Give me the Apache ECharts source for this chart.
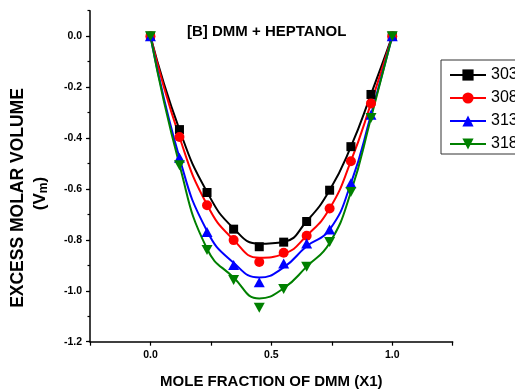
<!DOCTYPE html>
<html><head><meta charset="utf-8">
<script src="https://cdn.jsdelivr.net/npm/echarts@6/dist/echarts.min.js"></script>
<style>html,body{margin:0;padding:0;background:#fff}#c{width:515px;height:389px}</style>
</head><body><div id="c"></div>
<script>
// ---- data ----
const moleFraction = [0, 0.120, 0.234, 0.344, 0.450, 0.551, 0.646, 0.741, 0.829, 0.912, 1.0];
const seriesNames = ['303.15 K', '308.15 K', '313.15 K', '318.15 K'];
// measured points (markers)
const vm303 = [0, -0.367, -0.614, -0.758, -0.827, -0.809, -0.728, -0.605, -0.434, -0.229, 0];
const vm308 = [0, -0.396, -0.664, -0.801, -0.887, -0.851, -0.784, -0.677, -0.491, -0.264, 0];
const vm313 = [0, -0.478, -0.769, -0.899, -0.967, -0.893, -0.814, -0.759, -0.578, -0.309, 0];
const vm318 = [0, -0.507, -0.840, -0.958, -1.067, -0.993, -0.906, -0.808, -0.612, -0.321, 0];
// drawn fitted curves (read at the same mole fractions)
const fit303 = [0, -0.367, -0.612, -0.755, -0.815, -0.808, -0.727, -0.605, -0.434, -0.229, 0];
const fit308 = [0, -0.396, -0.662, -0.800, -0.870, -0.855, -0.784, -0.677, -0.491, -0.264, 0];
const fit313 = [0, -0.478, -0.765, -0.890, -0.948, -0.908, -0.825, -0.760, -0.578, -0.309, 0];
const fit318 = [0, -0.505, -0.835, -0.948, -1.030, -0.990, -0.905, -0.812, -0.612, -0.321, 0];
const xTickLabels = ['0.0', '0.5', '1.0'];
const yTickLabels = ['-1.2', '-1.0', '-0.8', '-0.6', '-0.4', '-0.2', '0.0'];

const FONT = '"Liberation Sans", Arial, sans-serif';
const colors = ['#000000', '#ff0000', '#0000ff', '#008000'];
const symbols = ['rect', 'circle', 'triangle', 'path://M0,0L10,0L5,10Z'];
const sizes = [9, 10, [11, 10], [11, 10]];
const points = [vm303, vm308, vm313, vm318];
const fits = [fit303, fit308, fit313, fit318];
const zip = arr => moleFraction.map((x, i) => [x, arr[i]]);

const series = [];
seriesNames.forEach((n, i) => {
  series.push({
    type: 'line', name: n, data: zip(fits[i]), smooth: true,
    symbol: symbols[i], symbolSize: sizes[i], showSymbol: false, silent: true,
    lineStyle: { color: colors[i], width: 2 }, itemStyle: { color: colors[i] }, z: 2
  });
});
seriesNames.forEach((n, i) => {
  series.push({
    type: 'scatter', name: n, data: zip(points[i]),
    symbol: symbols[i], symbolSize: sizes[i],
    itemStyle: { color: colors[i], opacity: 1 }, z: 3
  });
});

const chart = echarts.init(document.getElementById('c'));
chart.setOption({
  backgroundColor: '#fff',
  animation: false,
  title: {
    text: '[B] DMM + HEPTANOL', left: 182, top: 19,
    textStyle: { fontSize: 15, fontWeight: 'bold', color: '#000', fontFamily: FONT }
  },
  legend: {
    data: seriesNames, orient: 'vertical', left: 441, top: 60,
    padding: [7, 5, 2, 8], itemGap: 7, itemWidth: 36, itemHeight: 14,
    borderColor: '#333', borderWidth: 1, backgroundColor: '#fff',
    textStyle: { fontSize: 16, color: '#000', fontFamily: FONT }
  },
  grid: { left: 90, right: 62.3, top: 10.7, bottom: 47.3, containLabel: false, outerBoundsMode: 'none' },
  xAxis: {
    type: 'value', min: -0.25, max: 1.25, interval: 0.25,
    name: 'MOLE FRACTION OF DMM (X1)', nameLocation: 'middle', nameGap: 33,
    nameTextStyle: { fontSize: 15, fontWeight: 'bold', color: '#000', fontFamily: FONT },
    axisLine: { onZero: false, lineStyle: { color: '#000', width: 1.5 } },
    axisTick: { length: 4, lineStyle: { color: '#000', width: 1.2 } },
    axisLabel: {
      margin: 8, fontSize: 10.5, fontWeight: 'bold', color: '#000', fontFamily: FONT,
      formatter: v => { const s = v.toFixed(1); return xTickLabels.includes(s) && Math.abs(v * 2 - Math.round(v * 2)) < 1e-6 ? s : ''; }
    },
    splitLine: { show: false }
  },
  yAxis: [{
    type: 'value', min: -1.2, max: 0.1, interval: 0.2, position: 'left',
    axisLine: { show: true, onZero: false, lineStyle: { color: '#000', width: 1.5 } },
    axisTick: { show: true, length: 4, lineStyle: { color: '#000', width: 1.2 } },
    axisLabel: {
      margin: 8, fontSize: 10.5, fontWeight: 'bold', color: '#000', fontFamily: FONT, showMaxLabel: false,
      formatter: v => { const s = (Math.abs(v) < 1e-9 ? 0 : v).toFixed(1); return yTickLabels.includes(s) ? s : ''; }
    },
    splitLine: { show: false }
  }, {
    type: 'value', min: -1.2, max: 0.1, interval: 0.1, position: 'left',
    axisLine: { show: false, onZero: false },
    axisTick: { show: true, length: 2.5, lineStyle: { color: '#000', width: 1.2 } },
    axisLabel: { show: false }, splitLine: { show: false }
  }],
  graphic: [
    { type: 'text', x: 18.5, y: 198, rotation: Math.PI / 2,
      style: { text: 'EXCESS MOLAR VOLUME', font: 'bold 17.5px "Liberation Sans", Arial, sans-serif', fill: '#000', align: 'center', verticalAlign: 'middle' } },
    { type: 'text', x: 40, y: 193.5, rotation: Math.PI / 2,
      style: { text: '{a|(V}{b|m}{a|)}', align: 'center', verticalAlign: 'middle', fill: '#000',
        rich: {
          a: { fontSize: 17, fontWeight: 'bold', fontFamily: FONT, fill: '#000', color: '#000' },
          b: { fontSize: 12, fontWeight: 'bold', fontFamily: FONT, fill: '#000', color: '#000', verticalAlign: 'bottom', padding: [8, 0, 0, 0] }
        } } }
  ],
  series: series
});
</script></body></html>
